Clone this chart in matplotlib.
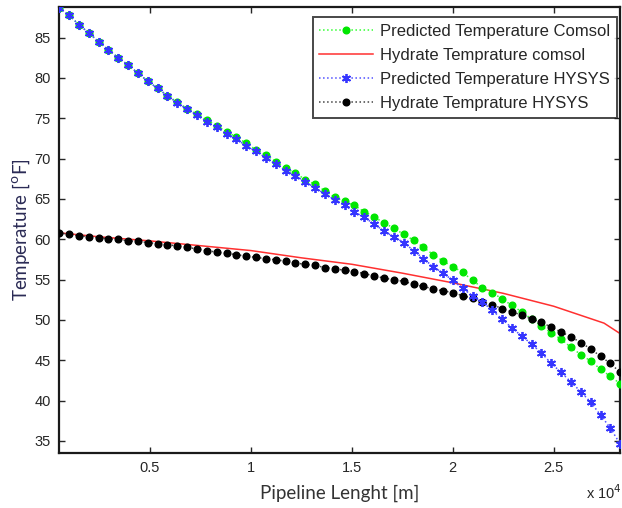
import numpy as np
import matplotlib
matplotlib.use("Agg")
import matplotlib.pyplot as plt

# ---------------- data ----------------
x_start, x_end, n_points = 500, 28300, 58
pipeline_length = np.linspace(x_start, x_end, n_points)

pred_comsol = [88.7, 87.8, 86.6, 85.6, 84.5, 83.5, 82.5, 81.6, 80.6, 79.6,
               78.7, 77.8, 77.0, 76.2, 75.5, 74.8, 74.1, 73.3, 72.7, 71.9,
               71.1, 70.5, 69.6, 68.8, 68.2, 67.4, 66.8, 66.0, 65.2, 64.7,
               64.2, 63.4, 62.8, 62.0, 61.4, 60.6, 59.9, 59.0, 58.1, 57.3,
               56.6, 55.9, 54.9, 54.0, 53.4, 52.6, 51.8, 51.0, 50.1, 49.2,
               48.4, 47.6, 46.6, 45.7, 44.9, 43.9, 43.0, 42.1]

pred_hysys = [88.7, 87.8, 86.6, 85.6, 84.5, 83.5, 82.5, 81.6, 80.6, 79.6,
              78.7, 77.8, 76.9, 76.1, 75.4, 74.6, 73.9, 73.1, 72.4, 71.6,
              70.9, 70.1, 69.3, 68.5, 67.9, 67.1, 66.4, 65.6, 64.9, 64.2,
              63.4, 62.7, 61.9, 61.0, 60.3, 59.6, 58.6, 57.6, 56.6, 55.8,
              54.9, 53.9, 53.0, 52.2, 51.2, 50.1, 49.0, 48.0, 47.0, 45.9,
              44.6, 43.5, 42.3, 41.1, 39.8, 38.2, 36.6, 34.6]

hydrate_hysys = [60.8, 60.6, 60.45, 60.3, 60.2, 60.05, 60.0, 59.8, 59.75, 59.6,
                 59.45, 59.3, 59.2, 59.0, 58.8, 58.6, 58.4, 58.25, 58.1, 57.9,
                 57.75, 57.6, 57.45, 57.3, 57.05, 56.9, 56.75, 56.5, 56.35, 56.15,
                 56.0, 55.75, 55.45, 55.2, 54.95, 54.8, 54.4, 54.15, 53.85, 53.6,
                 53.4, 53.0, 52.7, 52.2, 51.9, 51.4, 51.0, 50.6, 50.1, 49.7,
                 49.1, 48.5, 47.9, 47.2, 46.4, 45.5, 44.6, 43.5]

hydrate_comsol_x = [500, 2500, 5000, 7500, 10000, 12500, 15000, 17500,
                    20000, 22500, 25000, 27500, 28300]
hydrate_comsol = [60.8, 60.3, 59.8, 59.2, 58.6, 57.7, 56.9, 55.8,
                  54.6, 53.3, 51.7, 49.6, 48.3]

x_ticks = [5000, 10000, 15000, 20000, 25000]
x_tick_labels = ["0.5", "1", "1.5", "2", "2.5"]
y_ticks = [35, 40, 45, 50, 55, 60, 65, 70, 75, 80, 85]

labels = ["Predicted Temperature Comsol", "Hydrate Temprature comsol",
          "Predicted Temperature HYSYS", "Hydrate Temprature HYSYS"]

# ---------------- plot ----------------
plt.rcParams['font.family'] = ['Liberation Sans', 'DejaVu Sans']

fig = plt.figure(figsize=(6.22, 5.08), dpi=100)
ax = fig.add_axes([59 / 622, 55 / 508, (620 - 59) / 622, (453 - 7) / 508])

asterisk = (6, 2, 0)

ax.plot(pipeline_length, pred_comsol, linestyle=':', color='#33ff33', lw=1.1,
        marker='o', markersize=4.8, markerfacecolor='#00e600',
        markeredgecolor='#00e600', label=labels[0], zorder=3)
ax.plot(hydrate_comsol_x, hydrate_comsol, linestyle='-', color='#ff3030', lw=1.1,
        label=labels[1], zorder=2)
ax.plot(pipeline_length, pred_hysys, linestyle=':', color='#5050ff', lw=1.1,
        marker=asterisk, markersize=6.5, markeredgewidth=1.3,
        markeredgecolor='#3535ff', label=labels[2], zorder=4)
ax.plot(pipeline_length, hydrate_hysys, linestyle=':', color='#444444', lw=1.1,
        marker='o', markersize=4.8, markerfacecolor='black',
        markeredgecolor='black', label=labels[3], zorder=3)

ax.set_xlim(490, 28290)
ax.set_ylim(33.5, 88.8)
ax.set_xticks(x_ticks)
ax.set_xticklabels(x_tick_labels)
ax.set_yticks(y_ticks)

ax.tick_params(direction='in', top=True, right=True, length=4, width=1,
               labelsize=10.5, colors='#262626', pad=6)
for s in ax.spines.values():
    s.set_linewidth(1.6)
    s.set_color('#1a1a1a')

ax.set_xlabel("Pipeline Lenght [m]", family='Lato', fontsize=13.5,
              color='#333333', labelpad=7)
ax.set_ylabel(r"Temperature [$^{\mathrm{o}}$F]", family='Lato', fontsize=13.5,
              color='#2a2a55', labelpad=2)

fig.text(0.942, 0.018, r"x 10$^{4}$", fontsize=10.5, color='#262626')

leg = ax.legend(loc='upper right', bbox_to_anchor=(0.9947, 0.9776),
                fontsize=12, handlelength=3.2,
                frameon=True, fancybox=False, borderaxespad=0.0,
                labelspacing=0.55, handletextpad=0.45, borderpad=0.4)
leg.get_frame().set_edgecolor('#1a1a1a')
leg.get_frame().set_linewidth(1.4)
for t in leg.get_texts():
    t.set_color('#262626')

fig.savefig("out.png", dpi=100)
